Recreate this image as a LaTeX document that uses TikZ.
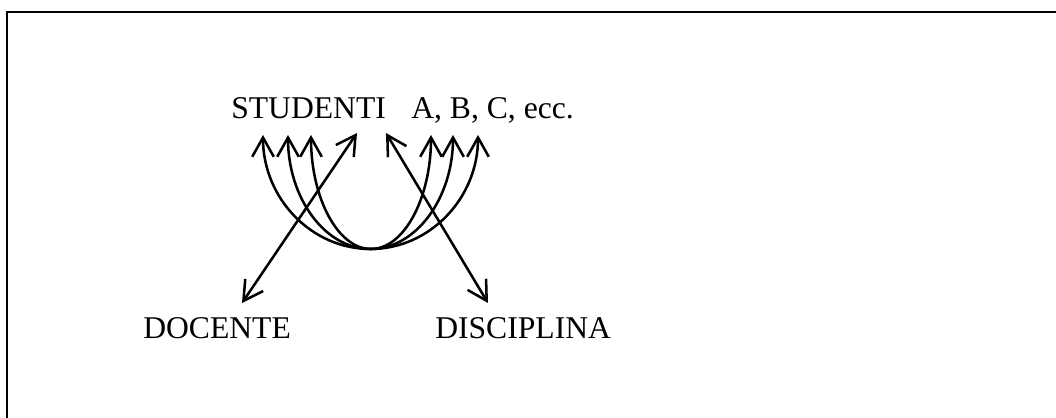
\documentclass[tikz,border=0pt]{standalone}
\usepackage{fontspec}
\setmainfont{Liberation Serif}
\usetikzlibrary{arrows.meta}

\begin{document}
\begin{tikzpicture}[x=0.025cm, y=-0.025cm, line width=1.8pt,
    >={Straight Barb[length=4.8mm, width=5.4mm]},
    lbl/.style={anchor=base west, inner sep=0pt, font=\fontsize{22.5}{27}\selectfont}]
        \useasboundingbox (0,0) rectangle (1056,418);
        % frame, cut at right and bottom
        \draw (7,418) -- (7,12) -- (1056,12);
        \node[lbl] (studenti) at (230,119){STUDENTI};
        \node[lbl] (abc) at (410,119){A, B, C, ecc.};
        \node[lbl] (docente) at (142,338){DOCENTE};
        \node[lbl] (disciplina) at (434,338){DISCIPLINA};
        % students linked to one another
        \foreach \l/\r [count=\i] in {263/478,288/453,311/431} {
          \coordinate (s\i) at (\l,135);
          \draw[<->] (s\i) arc[start angle=180, end angle=0, x radius={(\r-\l)/2}, y radius=114];
        }
        \coordinate (doc) at (242,303);
        \coordinate (dis) at (488,303);
        \coordinate (st1) at (357,133);
        \coordinate (st2) at (386,133);
        \draw[<->] (doc) -- (st1);
        \draw[<->] (dis) -- (st2);
      \end{tikzpicture}
\end{document}
